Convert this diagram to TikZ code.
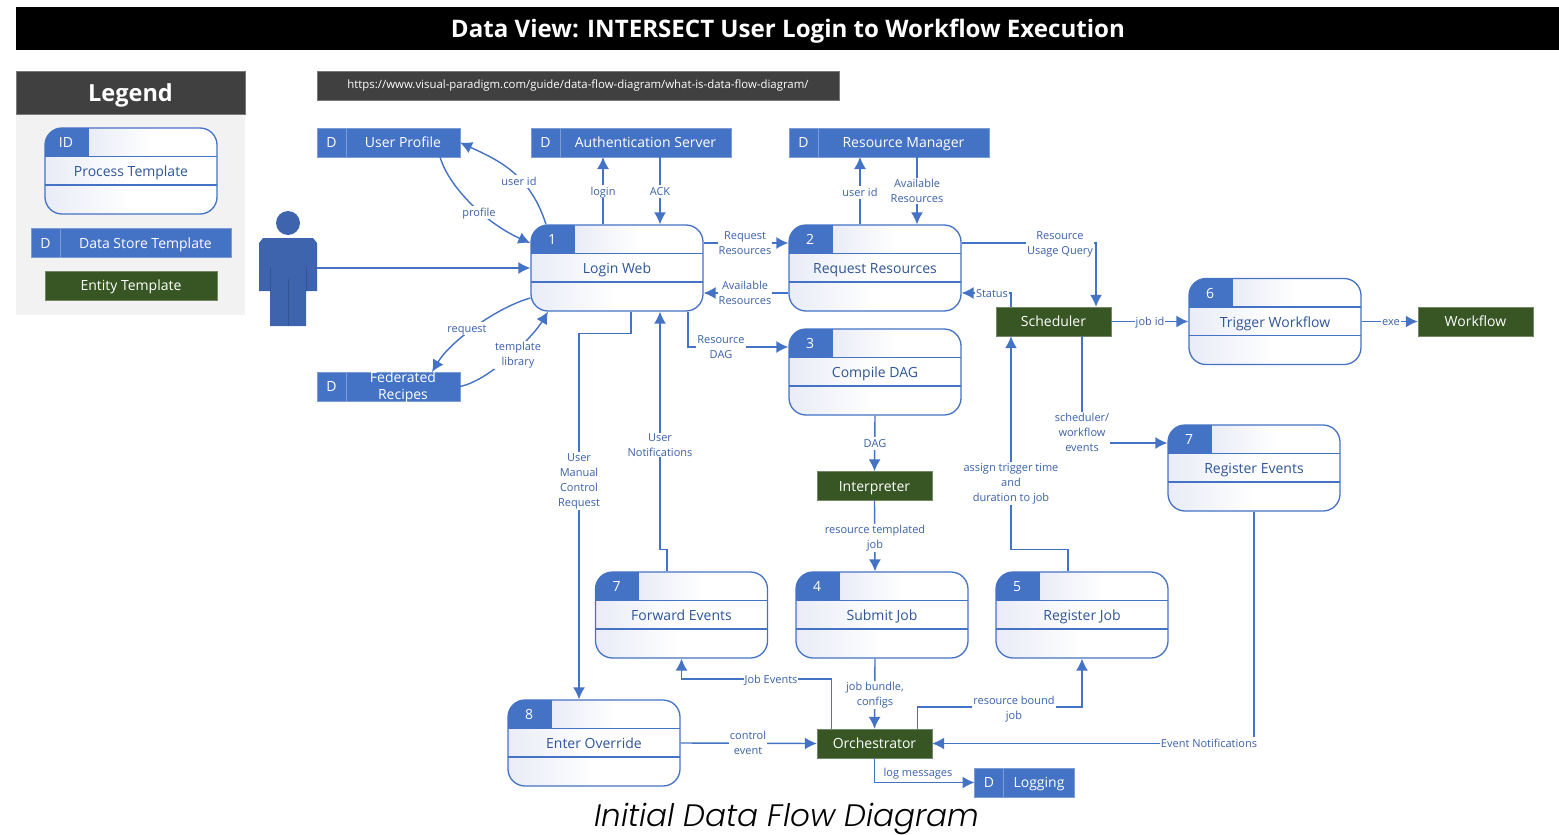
\documentclass[tikz,border=0pt]{standalone}
\usepackage{fontspec}
\setmainfont{Open Sans}
\newfontfamily\capfont{Poppins Light}[ItalicFont={Poppins Light Italic}]
\usetikzlibrary{positioning, arrows.meta}

\definecolor{flowblue}{HTML}{4472C4}
\definecolor{textblue}{HTML}{2F5597}
\definecolor{bandblue}{HTML}{E9ECF7}
\definecolor{entgreen}{HTML}{375623}
\definecolor{headgrey}{HTML}{404040}
\definecolor{panelgrey}{HTML}{F2F2F2}
\definecolor{figblue}{HTML}{3D64AC}

\tikzset{
	flow/.style={draw=flowblue, line width=1.4pt, -{Latex[length=12pt,width=12pt]}},
	lbl/.style={fill=white, text=flowblue!85!black, font=\fontsize{11}{15}\selectfont, align=center, inner sep=1pt},
	lblone/.style={lbl, text height=9.5pt, text depth=1.5pt},
	boxtext/.style={text height=12pt, text depth=2pt, font=\fontsize{14}{17}\selectfont},
	procnode/.style={boxtext, text height=12.5pt, text depth=1.5pt, draw=flowblue, line width=1.3pt, rounded corners=17pt, minimum width=172pt, minimum height=86pt, inner sep=0pt, text=textblue},
	procid/.style={boxtext, text=white, inner sep=0pt},
	storeid/.style={boxtext, draw=flowblue!70!white, fill=flowblue, text=white, minimum width=29pt, minimum height=29pt, inner sep=0pt, outer sep=0pt},
	storebody/.style={boxtext, draw=flowblue!70!white, fill=flowblue, text=white, minimum height=29pt, inner sep=0pt, outer sep=0pt},
	entity/.style={boxtext, draw=entgreen!70!white, fill=entgreen, text=white, minimum width=115pt, minimum height=29pt, inner sep=0pt},
	darkbox/.style={fill=headgrey, draw=headgrey!70!white, text=white, inner sep=0pt}
}

% process box: name, centre, id, label
\newcommand{\procbox}[4]{
	\begin{scope}[shift={(#2)}]
		\begin{scope}
			\clip[rounded corners=17pt] (-86,-43) rectangle (86,43);
			\fill[white] (-86,-43) rectangle (86,43);
			\shade[left color=bandblue, right color=white, middle color=white] (-43,-43) rectangle (86,-14.5);
			\shade[left color=bandblue, right color=white, middle color=white] (-86,-14.5) rectangle (86,14);
			\shade[left color=bandblue, right color=white, middle color=white] (-86,14) rectangle (86,43);
			\fill[flowblue] (-86,-43) rectangle (-43,-14.5);
		\end{scope}
		\draw[flowblue, line width=1.3pt] (-43,-43) -- (-43,-14.5);
		\draw[flowblue, line width=1.3pt] (-86,-14.5) -- (86,-14.5);
		\draw[flowblue, line width=1.3pt] (-86,14) -- (86,14);
		\node[procnode] (#1) at (0,0) {#4};
		\node[procid] (#1id) at (-65,-28.5) {#3};
	\end{scope}
}

% data store: name, centre of the D cell, body width, label
\newcommand{\datastore}[4]{
	\node[storeid] (#1id) at (#2) {D};
	\node[storebody, minimum width=#3pt, right=0pt of #1id] (#1) {#4};
}

\begin{document}
\begin{tikzpicture}[x=1pt, y=-1pt]
		\useasboundingbox (0,0) rectangle (1559,835);

		% Draw the title bar
		\fill[black] (16,7) rectangle (1559,50);
		\node[text=white, text height=20pt, text depth=1pt, inner sep=0pt, font=\fontsize{24.1}{30}\selectfont\bfseries] (title) at (788,28) {Data View: INTERSECT User Login to Workflow Execution};

		% Draw the legend
		\fill[panelgrey] (16,114) rectangle (245,315);
		\node[darkbox, minimum width=229pt, minimum height=43pt, text height=19pt, text depth=2pt, font=\fontsize{23.5}{30}\selectfont\bfseries] (legendhead) at (130.5,92.5) {Legend};
		\procbox{legendproc}{131,171}{ID}{Process Template}
		\datastore{legendstore}{45.5,243}{171}{Data Store Template}
		\node[entity, minimum width=172pt] (legendentity) at (131,285.5) {Entity Template};

		% Draw the link box
		\node[darkbox, minimum width=522pt, minimum height=29pt, font=\fontsize{11.4}{14}\selectfont] (linkbox) at (578,85.5) {\raisebox{-1pt}{https://www.visual-paradigm.com/guide/data-flow-diagram/what-is-data-flow-diagram/}};

		% Draw the person
		\fill[figblue] (288,223) circle (12);
		\fill[figblue] (263,238) -- (313,238) -- (317,243) -- (317,291) -- (306,291) -- (306,326) -- (270,326) -- (270,291) -- (259,291) -- (259,243) -- cycle;
		\draw[textblue, line width=0.7pt] (270,267) -- (270,291) (306,267) -- (306,291) (288,279) -- (288,326);
		\coordinate (person) at (317,268);

		% Draw the processes
		\procbox{login}{617,268}{1}{Login Web}
		\procbox{request}{875,268}{2}{Request Resources}
		\procbox{compile}{875,372}{3}{Compile DAG}
		\procbox{submit}{882,615}{4}{Submit Job}
		\procbox{register}{1082,615}{5}{Register Job}
		\procbox{trigger}{1275,321.5}{6}{Trigger Workflow}
		\procbox{regevents}{1254,468}{7}{Register Events}
		\procbox{forward}{681.5,615}{7}{Forward Events}
		\procbox{override}{594,743}{8}{Enter Override}

		% Draw the data stores
		\datastore{userprofile}{331.5,142.5}{114}{User Profile}
		\datastore{authserver}{545.5,142.5}{171}{Authentication Server}
		\datastore{resmanager}{803.5,142.5}{171}{Resource Manager}
		\datastore{fedrecipes}{331.5,386.5}{114}{}
		\datastore{logging}{989,782.5}{71}{Logging}
		\node[text=white, align=center, inner sep=0pt, font=\fontsize{14}{17}\selectfont] (fedtext) at ([yshift=-1pt]fedrecipes.center) {Federated\\Recipes};

		% Draw the entities
		\node[entity] (scheduler) at (1053.5,321.5) {Scheduler};
		\node[entity] (workflow) at (1475.5,321.5) {Workflow};
		\node[entity] (interpreter) at (874.5,486) {Interpreter};
		\node[entity] (orchestrator) at (874.5,743.5) {Orchestrator};

		% Draw the connectors
		\draw[flow] (person) -- (login.west);
		\draw[flow] ([xshift=-71pt]login.north) .. controls +(-16,-50) and +(39,18) .. (userprofile.east);
		\draw[flow] ([xshift=37pt]userprofile.south) .. controls +(10,33) and +(-41,-18) .. ([yshift=25pt]login.west);
		\draw[flow] ([yshift=-30pt]login.west) .. controls +(-35,10) and +(18,-30) .. ([xshift=29pt]fedrecipes.north);
		\draw[flow] (fedrecipes.east) .. controls +(30,-6) and +(-15,25) .. ([xshift=-69pt]login.south);
		\draw[flow] ([xshift=-14pt]login.north) -- ([xshift=-42.5pt]authserver.south);
		\draw[flow] ([xshift=14.5pt]authserver.south) -- ([xshift=43pt]login.north);
		\draw[flow] ([yshift=25pt]login.east) -- ([yshift=25pt]request.west);
		\draw[flow] ([yshift=-25pt]request.west) -- ([yshift=-25pt]login.east);
		\draw[flow] ([xshift=71pt]login.south) |- ([yshift=25pt]compile.west);
		\draw[flow] ([xshift=-15pt]request.north) -- ([xshift=-43.5pt]resmanager.south);
		\draw[flow] ([xshift=13.5pt]resmanager.south) -- ([xshift=42pt]request.north);
		\draw[flow] ([yshift=25pt]request.east) -| ([xshift=42.5pt]scheduler.north);
		\draw[flow] ([xshift=-42.5pt]scheduler.north) |- ([yshift=-25pt]request.east);
		\draw[flow] (scheduler.east) -- (trigger.west);
		\draw[flow] (trigger.east) -- (workflow.west);
		\draw[flow] ([xshift=28.5pt]scheduler.south) |- ([yshift=25pt]regevents.west);
		\draw[flow] ([xshift=-14pt]register.north) -- ++(0,-22) -| ([xshift=-42.5pt]scheduler.south);
		\draw[flow] (compile.south) -- (interpreter.north);
		\draw[flow] (interpreter.south) -- ([xshift=-7pt]submit.north);
		\draw[flow] ([xshift=-7pt]submit.south) -- (orchestrator.north);
		\draw[flow] ([xshift=43pt]orchestrator.north) -- ++(0,-22) -| (register.south);
		\draw[flow] ([xshift=-43pt]orchestrator.north) -- ++(0,-50) -| (forward.south);
		\draw[flow] (regevents.south) |- (orchestrator.east);
		\draw[flow] (override.east) -- (orchestrator.west);
		\draw[flow] (orchestrator.south) |- (loggingid.west);
		\draw[flow] ([xshift=14pt]login.south) -- ++(0,22) -| ([xshift=-15pt]override.north);
		\draw[flow] ([xshift=-14.5pt]forward.north) -- ++(0,-22) -| ([xshift=43pt]login.south);

		% Draw the connector labels
		\node[lblone] (lbuserid) at (519,181) {user id};
		\node[lblone] (lbprofile) at (479,212) {profile};
		\node[lblone] (lbrequest) at (467,328) {request};
		\node[lbl] (lbtemplate) at (518,355) {template\\library};
		\node[lblone] (lblogin) at (603,191) {login};
		\node[lblone] (lback) at (660,191) {ACK};
		\node[lbl] (lbreqres) at (745,243) {Request\\Resources};
		\node[lbl] (lbavailres) at (745,293) {Available\\Resources};
		\node[lbl] (lbresdag) at (721,347) {Resource\\DAG};
		\node[lblone] (lbuserid2) at (860,192) {user id};
		\node[lbl] (lbavail2) at (917,191) {Available\\Resources};
		\node[lbl] (lbusage) at (1060,244) {Resource\\Usage Query};
		\node[lblone] (lbstatus) at (992,293) {Status};
		\node[lblone] (lbjobid) at (1150,321.5) {job id};
		\node[lblone] (lbexe) at (1391,321.5) {exe};
		\node[lbl] (lbevents) at (1082,432) {scheduler/\\workflow\\events};
		\node[lbl] (lbassign) at (1011,483.5) {assign trigger time\\and\\duration to job};
		\node[lblone] (lbdag) at (875,443) {DAG};
		\node[lbl] (lbtemplated) at (875,538) {resource templated\\job};
		\node[lbl] (lbbundle) at (875,695) {job bundle,\\configs};
		\node[lbl] (lbbound) at (1014,709) {resource bound\\job};
		\node[lblone] (lbjobevents) at (771,679) {Job Events};
		\node[lblone] (lbnotify) at (1209,743.5) {Event Notifications};
		\node[lbl] (lbcontrol) at (748,743) {control\\event};
		\node[lblone] (lblog) at (918,772) {log messages};
		\node[lbl] (lbmanual) at (579,481) {User\\Manual\\Control\\Request};
		\node[lbl] (lbnotes) at (660,445) {User\\Notifications};

		% Draw the caption
		\node[text=black, text height=26pt, text depth=4pt, inner sep=0pt, font=\capfont\itshape\fontsize{31}{38}\selectfont] (caption) at (787,815.5) {Initial Data Flow Diagram};
\end{tikzpicture}
\end{document}
